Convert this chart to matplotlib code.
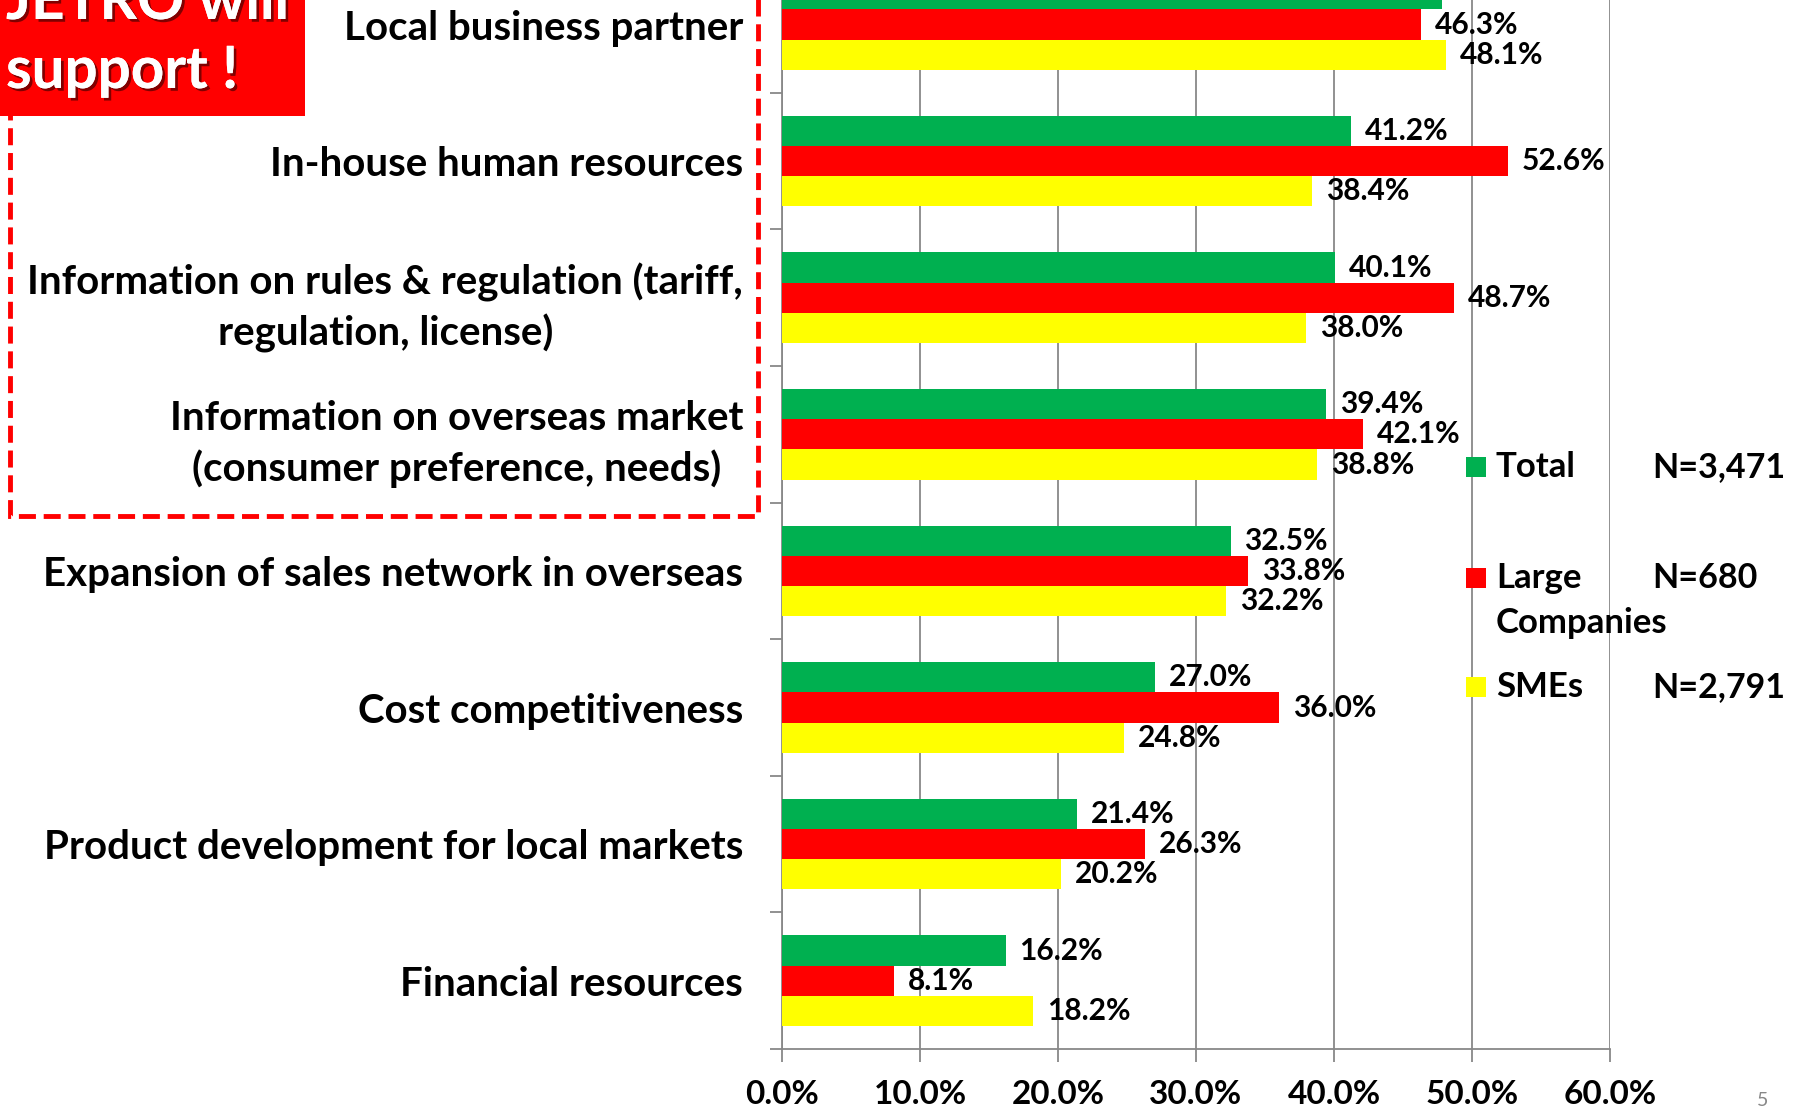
import matplotlib
matplotlib.use("Agg")
import matplotlib.pyplot as plt
from matplotlib.patches import Rectangle
import matplotlib.patheffects as pe
import matplotlib.transforms as mtransforms
import numpy as np

categories = [
    "Local business partner",
    "In-house human resources",
    "Information on rules & regulation (tariff,\nregulation, license)",
    "Information on overseas market\n(consumer preference, needs)",
    "Expansion of sales network in overseas",
    "Cost competitiveness",
    "Product development for local markets",
    "Financial resources",
]
total = [47.8, 41.2, 40.1, 39.4, 32.5, 27.0, 21.4, 16.2]
large = [46.3, 52.6, 48.7, 42.1, 33.8, 36.0, 26.3, 8.1]
smes = [48.1, 38.4, 38.0, 38.8, 32.2, 24.8, 20.2, 18.2]
series_names = ["Total", "Large\nCompanies", "SMEs"]
series_n = ["N=3,471", "N=680", "N=2,791"]
xticks = [0, 10, 20, 30, 40, 50, 60]

GREEN, RED, YELLOW = "#00B050", "#FF0000", "#FFFF00"
FONT = "Lato"

W, H = 1795, 1111
fig = plt.figure(figsize=(W / 100, H / 100), dpi=100)
ax = fig.add_axes([782 / W, 1 - 1049 / H, (1610 - 782) / W, 1049 / H])

n = len(categories)
y = np.arange(n)[::-1].astype(float)
h = 0.221
ax.barh(y + h, total, height=h, color=GREEN, zorder=3)
ax.barh(y, large, height=h, color=RED, zorder=3)
ax.barh(y - h, smes, height=h, color=YELLOW, zorder=3)

for vals, off in ((total, h), (large, 0), (smes, -h)):
    for yi, v in zip(y, vals):
        ax.annotate(f"{v:.1f}%", (v, yi + off), xytext=(10, 0), textcoords="offset points",
                    va="center", ha="left", fontsize=21.5, fontweight="bold",
                    family=FONT, zorder=4)

ax.set_xlim(0, 60)
ax.set_ylim(-0.5, 7.18)
ax.set_xticks(xticks)
ax.set_xticklabels([f"{t:.1f}%" for t in xticks], fontsize=24, fontweight="bold", family=FONT)
ax.set_yticks(y)
ax.set_yticklabels(categories, fontsize=29, fontweight="bold", family=FONT, linespacing=1.4)
shift_up = mtransforms.ScaledTranslation(0, 6 / 100, fig.dpi_scale_trans)
for t in ax.get_yticklabels():
    t.set_multialignment("center")
    if "\n" in t.get_text():
        t.set_transform(t.get_transform() + shift_up)
ax.set_yticks(np.arange(-0.5, n - 0.5, 1.0), minor=True)
ax.tick_params(axis="y", which="major", length=0, pad=28)
ax.tick_params(axis="y", which="minor", length=9, color="#888888", width=1.3, direction="out")
ax.tick_params(axis="x", which="major", length=9, color="#888888", width=1.3, direction="out", pad=13)
ax.grid(axis="x", color="#888888", linewidth=1.3, zorder=0)
for s in ("top", "right"):
    ax.spines[s].set_visible(False)
for s in ("left", "bottom"):
    ax.spines[s].set_color("#888888")
    ax.spines[s].set_linewidth(1.3)

# overlay in pixel coordinates
ov = fig.add_axes([0, 0, 1, 1], zorder=5)
ov.set_xlim(0, W)
ov.set_ylim(H, 0)
ov.axis("off")
ov.patch.set_alpha(0)

ov.add_patch(Rectangle((10, -30), 748, 546, fill=False, edgecolor=RED, linewidth=3.5,
                       linestyle=(0, (3.5, 1.6))))
ov.add_patch(Rectangle((0, -30), 305, 146, facecolor=RED, edgecolor="none"))
shadow = [pe.withSimplePatchShadow(offset=(2, -2), shadow_rgbFace="#600000", alpha=0.8), pe.Normal()]
ov.text(6, 19, "JETRO will", color="white", fontsize=42, fontweight="bold", family=FONT,
        va="baseline", ha="left", path_effects=shadow)
ov.text(6, 88, "support !", color="white", fontsize=42, fontweight="bold", family=FONT,
        va="baseline", ha="left", path_effects=shadow)

leg_y = [467, 578, 687]
for c, name, nn, ly in zip((GREEN, RED, YELLOW), series_names, series_n, leg_y):
    ov.add_patch(Rectangle((1466, ly - 10), 20, 20, facecolor=c, edgecolor="none"))
    for k, ln in enumerate(name.split("\n")):
        ov.text(1496, ly + k * 45, ln, fontsize=25, fontweight="bold", family=FONT,
                va="center", ha="left")
    ov.text(1652, ly, nn, fontsize=24.5, fontweight="bold", family=FONT, va="center", ha="left")

ov.text(1757, 1109, "5", color="#888888", fontsize=14, family=FONT, va="bottom", ha="left")

fig.savefig("out.png", dpi=100)
